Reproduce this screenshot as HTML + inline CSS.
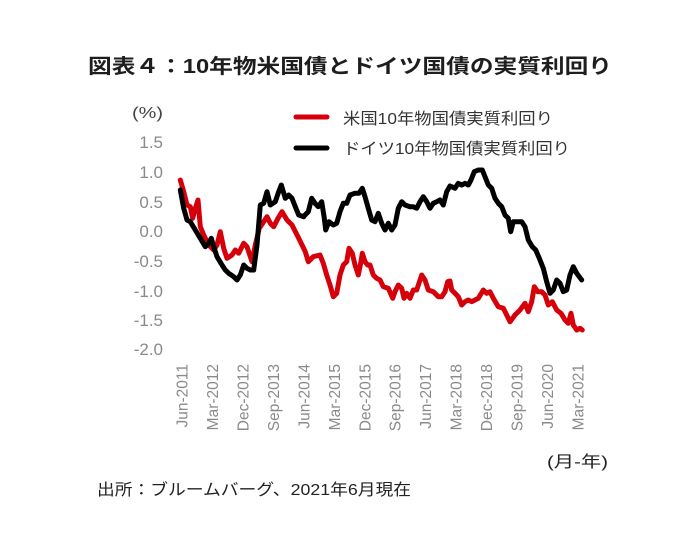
<!DOCTYPE html>
<html>
<head>
<meta charset="utf-8">
<style>
  html, body { margin: 0; padding: 0; background: #ffffff; }
  body { width: 700px; height: 554px; overflow: hidden; }
  svg { display: block; }
  text { font-family: "Liberation Sans", "Noto Sans CJK JP", sans-serif; }
</style>
</head>
<body>
<svg width="700" height="554" viewBox="0 0 700 554" xmlns="http://www.w3.org/2000/svg">
  <rect x="0" y="0" width="700" height="554" fill="#ffffff"/>

  <!-- Title -->
  <text x="88" y="73" font-size="20" font-weight="bold" fill="#1e1e1e" textLength="524" lengthAdjust="spacingAndGlyphs">図表４：10年物米国債とドイツ国債の実質利回り</text>

  <!-- Unit -->
  <text x="163" y="118" font-size="16" fill="#444" text-anchor="end" textLength="31" lengthAdjust="spacingAndGlyphs">(%)</text>

  <!-- Y ticks -->
  <g font-size="17" fill="#8a8a8a" text-anchor="end">
    <text x="163" y="148">1.5</text>
    <text x="163" y="178">1.0</text>
    <text x="163" y="208">0.5</text>
    <text x="163" y="237">0.0</text>
    <text x="163" y="267">-0.5</text>
    <text x="163" y="297">-1.0</text>
    <text x="163" y="326">-1.5</text>
    <text x="163" y="355">-2.0</text>
  </g>

  <!-- Legend -->
  <line x1="296" y1="117" x2="327" y2="117" stroke="#d6000a" stroke-width="5" stroke-linecap="round"/>
  <text x="343" y="124" font-size="16" fill="#333" textLength="210" lengthAdjust="spacingAndGlyphs">米国10年物国債実質利回り</text>
  <line x1="296" y1="148" x2="327" y2="148" stroke="#000" stroke-width="5" stroke-linecap="round"/>
  <text x="343" y="154" font-size="16" fill="#333" textLength="227" lengthAdjust="spacingAndGlyphs">ドイツ10年物国債実質利回り</text>

  <!-- Red series: US -->
  <polyline fill="none" stroke="#d6000a" stroke-width="5" stroke-linejoin="round" stroke-linecap="round"
    points="180.3,180 183.7,191.7 187,205 190.3,206.7 192.7,218.3 195.3,208.3 198,200 200.3,226.7 203.7,235 208.7,245 213.7,250 217,245 220.3,231.7 223.7,248.3 227,258.3 232,255 235.3,250 238.7,253.3 243.7,243.3 247,246.7 252,261.7 255.3,245 259.3,228.3 263.7,221.7 267,216.7 270.3,223.3 273.7,226.7 278,218.3 282,211.7 287,220 292,225 298.7,238.3 305.3,251.7 308.3,261.7 313.3,256.7 320,255 323.3,263.3 326.7,275 330,285 333.3,296.7 336.7,293.3 340,275 343.3,265 346.7,261.7 349,248.3 352.3,253.3 355,265 358.3,275 361,261.7 362.3,253.3 365,261.7 367.7,265 370,265 373.3,275 376.7,278.3 380,280 383.3,286.7 388.3,288.3 392.7,298.3 395,291.7 398.3,285 401.7,288.3 404,298.3 406.7,293.3 410,298.3 413.3,290 416.7,290 421.7,275 425,280 428.3,290 433.3,291.7 438.3,296.7 441.7,296.7 445,291.7 447.7,281.7 450,281 451.7,290 455,293.3 458.3,296.7 461.7,305 465,301.7 468.3,300 471.7,301.7 475,300 478.3,298.3 483.3,290 486.7,293.3 490,291.7 493.3,298.3 498.3,306.7 503.3,308.3 506.7,315 510,321.7 515,315 520,310 525,303.3 528.3,311.7 531.7,301.7 534.3,286.7 537.7,291.7 541.7,291.7 545,295 548.3,305 552.3,301.7 556.7,310 561,313.3 565,320 568.3,323.3 571,313.3 573.3,325 576.7,330 580,328.3 582.3,330"/>

  <!-- Black series: Germany -->
  <polyline fill="none" stroke="#000000" stroke-width="5" stroke-linejoin="round" stroke-linecap="round"
    points="180.3,190 183.7,208.3 187,220 190.3,221.7 195.3,230 200.3,238.3 205.3,246.7 208.7,243.3 211.3,238.3 213.7,246.7 217,256.7 222,265 225.3,270 228.7,273.3 233.7,276.7 237,280 240.3,275 243.7,265 247,268.3 250.3,270 253.7,270 257,245 260.3,205 263.7,203.3 267,191.7 270.3,205 275.3,201.7 278.7,191.7 281.3,185 285.3,198.3 288.7,195 292,198.3 295.3,206.7 298.7,215 303.7,216.7 305,215 308.3,211.7 311.7,198.3 315,203.3 318.3,206.7 321.7,201.7 324.3,218.3 325.7,230 329,221.7 333.3,225 336.7,223.3 340,211.7 343.3,203.3 346.7,203.3 350,195 355,193.3 359,193.3 362.3,188.3 365,196.7 368.3,208.3 371.7,220 375,221.7 378.3,213.3 381.7,223.3 385,230 388.3,223.3 391.7,230 395,225 398.3,208.3 401.7,201.7 405,205 410,206.7 413.3,206.7 416.7,208.3 420,201.7 423.3,196.7 426.7,201.7 430,208.3 433.3,203.3 436.7,201.7 440,200 443.3,205 446.7,191.7 450,186 451.7,186.7 455,188.3 458.3,183.3 461.7,185 465,183.3 468.3,185 471,180 474.3,171.7 478.3,170 482.3,170 485,176.7 488.3,185 491.7,188.3 495,198.3 498.3,203.3 501.7,206.7 505,215 508.3,218.3 510.7,231.7 513.3,221.7 516.7,221.7 521.7,221.7 525,226.7 528.3,240 532.3,246.7 535.7,250 539.3,258.3 543.3,268.3 546.7,281.7 550,293.3 553.3,290 556.7,280 560,283.3 563.3,291.7 566.7,290 570,275 573.3,266.7 576.7,273.3 581.7,280"/>

  <!-- X tick labels (rotated) -->
  <g font-size="15.5" fill="#8a8a8a" text-anchor="end">
    <text transform="translate(187.5,364) rotate(-90)">Jun-2011</text>
    <text transform="translate(218,364) rotate(-90)">Mar-2012</text>
    <text transform="translate(248.4,364) rotate(-90)">Dec-2012</text>
    <text transform="translate(278.9,364) rotate(-90)">Sep-2013</text>
    <text transform="translate(309.3,364) rotate(-90)">Jun-2014</text>
    <text transform="translate(339.8,364) rotate(-90)">Mar-2015</text>
    <text transform="translate(370.3,364) rotate(-90)">Dec-2015</text>
    <text transform="translate(400.7,364) rotate(-90)">Sep-2016</text>
    <text transform="translate(431.2,364) rotate(-90)">Jun-2017</text>
    <text transform="translate(461.6,364) rotate(-90)">Mar-2018</text>
    <text transform="translate(492.1,364) rotate(-90)">Dec-2018</text>
    <text transform="translate(522.6,364) rotate(-90)">Sep-2019</text>
    <text transform="translate(553,364) rotate(-90)">Jun-2020</text>
    <text transform="translate(583.5,364) rotate(-90)">Mar-2021</text>
  </g>

  <!-- X unit -->
  <text x="547" y="467" font-size="16" fill="#222" textLength="61" lengthAdjust="spacingAndGlyphs">(月-年)</text>

  <!-- Source -->
  <text x="97" y="495" font-size="16" fill="#222" textLength="314" lengthAdjust="spacingAndGlyphs">出所：ブルームバーグ、2021年6月現在</text>
</svg>
</body>
</html>
